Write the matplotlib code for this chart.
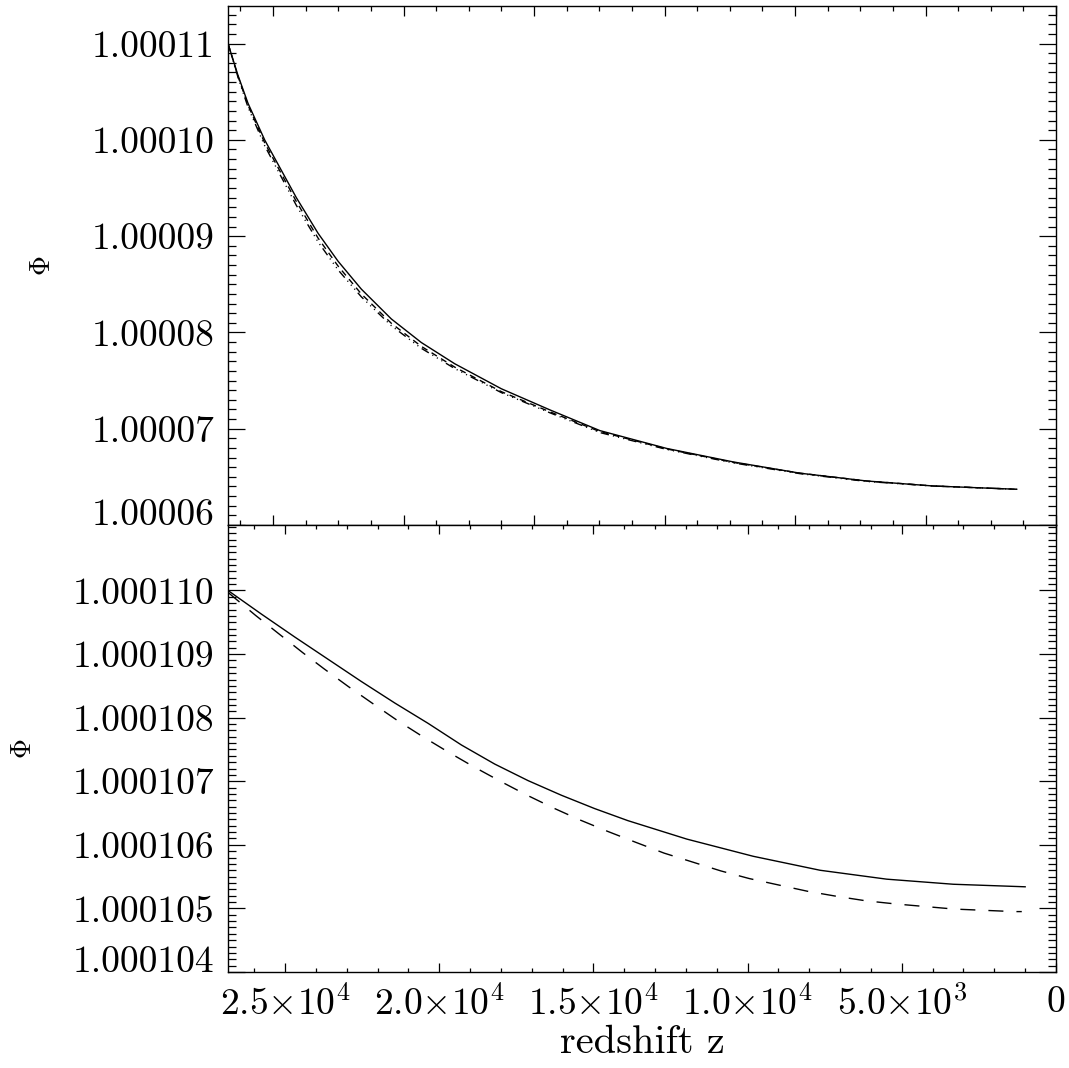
import numpy as np
import matplotlib
matplotlib.use('Agg')
import matplotlib.pyplot as plt
from matplotlib.ticker import MultipleLocator, FixedLocator

plt.rcParams['font.family'] = 'cmr10'
plt.rcParams['mathtext.fontset'] = 'cm'
plt.rcParams['axes.formatter.use_mathtext'] = True
plt.rcParams['lines.scale_dashes'] = False

# top panel: own (unlabelled) x scale
top_x = [12690, 12537, 12383, 12127, 11643, 11310, 11004, 10647, 10187, 9727,
         9216, 8501, 7755, 6989, 5966, 4946, 3923, 2901, 1880, 602]
top_solid = [1.00011000, 1.00010670, 1.00010379, 1.00009998, 1.00009400, 1.00009030,
             1.00008740, 1.00008450, 1.00008140, 1.00007895, 1.00007675, 1.00007415,
             1.00007195, 1.00006980, 1.00006795, 1.00006655, 1.00006538, 1.00006457,
             1.00006405, 1.00006371]
top_dashdot = [1.00011000, 1.00010650, 1.00010339, 1.00009938, 1.00009320, 1.00008940,
               1.00008650, 1.00008370, 1.00008070, 1.00007835, 1.00007625, 1.00007375,
               1.00007165, 1.00006960, 1.00006785, 1.00006645, 1.00006533, 1.00006452,
               1.00006405, 1.00006371]
top_dashed = [1.00011000, 1.00010660, 1.00010359, 1.00009968, 1.00009360, 1.00008980,
              1.00008690, 1.00008400, 1.00008095, 1.00007855, 1.00007640, 1.00007385,
              1.00007175, 1.00006970, 1.00006790, 1.00006650, 1.00006538, 1.00006457,
              1.00006405, 1.00006371]

# bottom panel: redshift z
z_solid = [26850, 25770, 24690, 23610, 22530, 21440, 20360, 19280, 18200, 17120,
           16040, 14960, 13880, 11970, 9820, 7650, 5490, 3330, 1000]
phi_solid = [1.00011000, 1.00010963, 1.00010927, 1.00010892, 1.00010857, 1.00010823,
             1.00010791, 1.00010757, 1.00010727, 1.00010701, 1.00010678, 1.00010657,
             1.00010638, 1.00010609, 1.00010582, 1.00010560, 1.00010546, 1.00010538,
             1.00010534]
z_dash = [26850, 25960, 25230, 24420, 23740, 22950, 22150, 21340, 20530, 19710,
          18890, 18020, 17150, 16300, 15430, 14530, 13630, 12710, 11790, 10870,
          9950, 9010, 8060, 7110, 6170, 5200, 4250, 3310, 2330, 1360, 1110]
phi_dash = [1.00010997, 1.00010961, 1.00010933, 1.00010902, 1.00010877, 1.00010849,
            1.00010822, 1.00010795, 1.00010770, 1.00010746, 1.00010723, 1.00010700,
            1.00010678, 1.00010658, 1.00010639, 1.00010621, 1.00010604, 1.00010587,
            1.00010573, 1.00010559, 1.00010547, 1.00010537, 1.00010527, 1.00010519,
            1.00010512, 1.00010507, 1.00010503, 1.00010499, 1.00010497, 1.00010495,
            1.00010495]

top_yticks = [1.00006, 1.00007, 1.00008, 1.00009, 1.00010, 1.00011]
top_ylabels = ['1.00006', '1.00007', '1.00008', '1.00009', '1.00010', '1.00011']
bot_yticks = [1.000104, 1.000105, 1.000106, 1.000107, 1.000108, 1.000109, 1.000110]
bot_ylabels = ['1.000104', '1.000105', '1.000106', '1.000107', '1.000108',
               '1.000109', '1.000110']
xticks = [25000, 20000, 15000, 10000, 5000, 0]
xlabels = [r'$2.5{\times}10^{4}$', r'$2.0{\times}10^{4}$', r'$1.5{\times}10^{4}$',
           r'$1.0{\times}10^{4}$', r'$5.0{\times}10^{3}$', r'$0$']

W, H = 1069, 1068
fig = plt.figure(figsize=(W / 100, H / 100), dpi=100)
left, right = 228 / W, 1056 / W
ax1 = fig.add_axes([left, 1 - 525 / H, right - left, (525 - 6) / H])
ax2 = fig.add_axes([left, 1 - 972 / H, right - left, (972 - 525) / H])

lw = 1.0
fs = 27

# top panel
ax1.plot(top_x, top_solid, color='black', lw=lw)
ax1.plot(top_x, top_dashed, color='black', lw=lw, dashes=(4.5, 3.5))
ax1.plot(top_x, top_dashdot, color='black', lw=lw,
         dashes=(6, 3, 0.8, 3, 0.8, 3, 0.8, 3))
ax1.set_xlim(12690, 0)
ax1.set_ylim(1.00006, 1.0001139)
ax1.xaxis.set_major_locator(MultipleLocator(2000))
ax1.xaxis.set_minor_locator(MultipleLocator(500))
ax1.set_xticklabels([])
ax1.set_yticks(top_yticks, top_ylabels)
ax1.yaxis.set_minor_locator(MultipleLocator(1e-6))
ax1.tick_params(axis='x', which='major', length=7.5)
ax1.tick_params(axis='x', which='minor', length=3.7)

# bottom panel
ax2.plot(z_solid, phi_solid, color='black', lw=lw)
ax2.plot(z_dash, phi_dash, color='black', lw=lw, dashes=(10.8, 9.4))
ax2.set_xlim(26850, 0)
ax2.set_ylim(1.000104, 1.00011103)
ax2.xaxis.set_major_locator(FixedLocator(xticks))
ax2.set_xticklabels(xlabels)
ax2.xaxis.set_minor_locator(MultipleLocator(1000))
ax2.set_yticks(bot_yticks, bot_ylabels)
ax2.yaxis.set_minor_locator(MultipleLocator(1e-7))
ax2.tick_params(axis='x', which='major', length=6.4)
ax2.tick_params(axis='x', which='minor', length=3.2)
ax2.set_xlabel('redshift z', fontsize=29, labelpad=2)

for ax in (ax1, ax2):
    ax.tick_params(which='both', direction='in', top=True, right=True,
                   width=0.9, labelsize=fs, pad=10)
    ax.tick_params(axis='y', which='major', length=11.9)
    ax.tick_params(axis='y', which='minor', length=6)
    for sp in ax.spines.values():
        sp.set_linewidth(1.0)
    # lowest label sits on its baseline like the original
    ax.yaxis.get_major_ticks()[0].label1.set_va('baseline')

ax1.set_ylabel(r'$\Phi$', fontsize=20)
ax1.yaxis.set_label_coords(-172 / 828, 0.5)
ax2.set_ylabel(r'$\Phi$', fontsize=20)
ax2.yaxis.set_label_coords(-191 / 828, 0.5)

fig.savefig('out.png', dpi=100)
